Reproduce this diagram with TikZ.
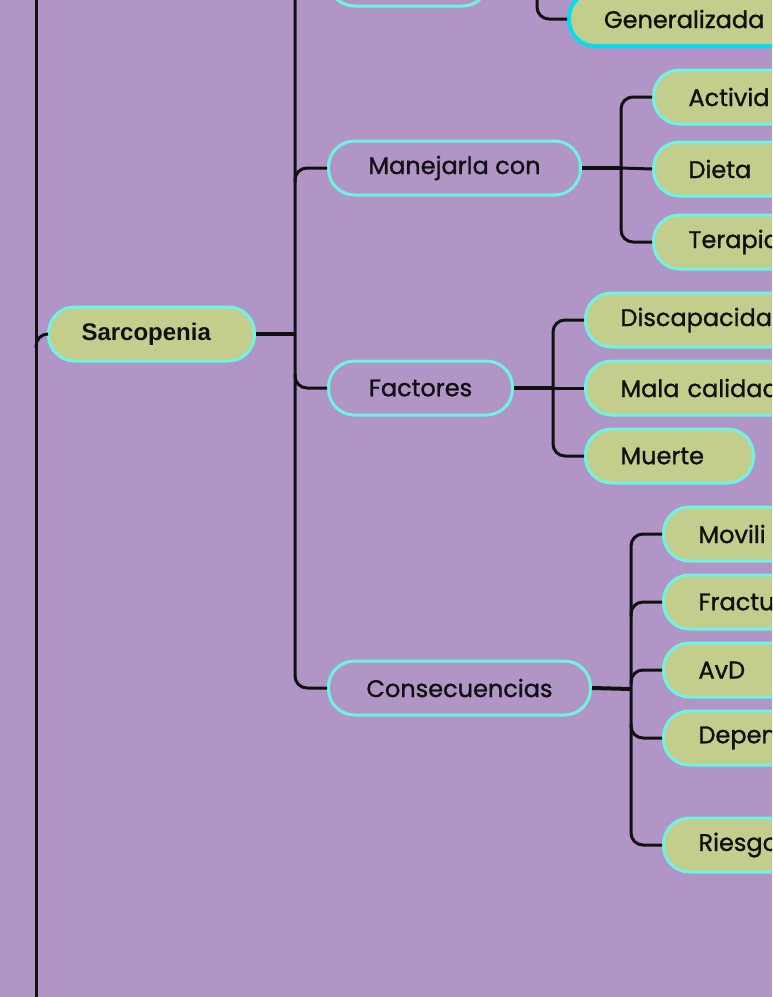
\documentclass[tikz,border=0pt]{standalone}
\usepackage{fontspec}
\setmainfont{Poppins}[UprightFeatures={FakeBold=1.2}]
\newfontfamily\rootfont{Liberation Sans}
\usetikzlibrary{positioning}
\usetikzlibrary{calc}

\definecolor{bgpurple}{HTML}{B195C6}
\definecolor{leafgreen}{HTML}{C3CD8C}
\definecolor{edgecyan}{HTML}{6EF5E2}
\definecolor{deepcyan}{HTML}{00DDF0}
\definecolor{inkblack}{HTML}{111111}

\tikzset{
  topic/.style={draw=edgecyan, line width=3pt, fill=bgpurple, rounded corners=26pt,
                minimum height=54pt, anchor=west, text=inkblack,
                font=\fontsize{24}{28}\selectfont},
  leaf/.style={topic, fill=leafgreen, inner xsep=35pt, align=left},
  root/.style={topic, fill=leafgreen, inner xsep=33pt, align=left,
               font=\rootfont\bfseries\fontsize{24}{28}\selectfont},
  link/.style={draw=inkblack, line width=3pt, rounded corners=12pt},
  heavy/.style={draw=inkblack, line width=4pt},
}

\begin{document}
\begin{tikzpicture}[x=1pt, y=-1pt]
  \useasboundingbox (0,0) rectangle (772,997);
  \clip (0,0) rectangle (772,997);
  \fill[bgpurple] (0,0) rectangle (772,997);

  %trunk
  \coordinate (trunk) at (36,-60);
  \coordinate (trunkend) at (36,1060);
  \draw[link] (trunk) -- (trunkend);

  \node[root, text width=140pt] (sarc) at (47,334) {Sarcopenia};
  \draw[link] ($(trunk |- sarc.west)+(0,14)$) |- (sarc.west);

  %main topics
  \coordinate (spine) at (295,-80);
  \foreach \y/\w/\txt/\name in {-21/160//upper, 168/252/Manejarla con/manejo, 388/184/Factores/factores, 688/262/Consecuencias/consec}{
      \node[topic, minimum width=\w pt] (\name) at (327,\y) {\txt};
  }
  \draw[heavy] (sarc.east) -- (sarc.east -| spine);
  \draw[link] (spine) |- (consec.west);
  \draw[link] ($(spine |- upper.west)+(0,14)$) |- (upper.west);
  \draw[link] ($(spine |- manejo.west)+(0,14)$) |- (manejo.west);
  \draw[link] ($(spine |- factores.west)+(0,-14)$) |- (factores.west);

  %top leaf
  \coordinate (genj) at (537,-40);
  \node[leaf, draw=deepcyan, line width=4pt, text width=230pt] (gen) at (567,19) {Generalizada};
  \draw[link] (genj) |- (gen.west);

  %manejarla con
  \coordinate (mj) at (621,168);
  \foreach \y/\txt/\name in {97/Activid/act, 169/Dieta/dieta, 242/Terapia/terapia}{
      \node[leaf, text width=200pt] (\name) at (652,\y) {\txt};
  }
  \draw[heavy] (manejo.east) -- (mj);
  \draw[link] (act.west) -| (mj) |- (terapia.west);
  \draw[link] (mj) -- (dieta.west);

  %factores
  \coordinate (fj) at (553,388);
  \foreach \y/\w/\txt/\name in {320/200/Discapacidad/disc, 388/200/Mala calidad/mala, 456/98/Muerte/muerte}{
      \node[leaf, text width=\w pt] (\name) at (584,\y) {\txt};
  }
  \draw[heavy] (factores.east) -- (fj);
  \draw[link] (disc.west) -| (fj) |- (muerte.west);
  \draw[link] (fj) -- (mala.west);

  %consecuencias
  \coordinate (cj) at (631,689);
  \foreach \y/\txt/\name in {534/Movili/movil, 602/Fractu/fract, 670/AvD/avd, 738/Depen/depen, 845/Riesgo/riesgo}{
      \node[leaf, text width=200pt] (\name) at (662,\y) {\txt};
  }
  \draw[heavy] (consec.east) -- (cj);
  \draw[link] (movil.west) -| (cj) |- (riesgo.west);
  \draw[link] ($(cj |- fract.west)+(0,14)$) |- (fract.west);
  \draw[link] ($(cj |- avd.west)+(0,14)$) |- (avd.west);
  \draw[link] ($(cj |- depen.west)+(0,-14)$) |- (depen.west);

\end{tikzpicture}
\end{document}
